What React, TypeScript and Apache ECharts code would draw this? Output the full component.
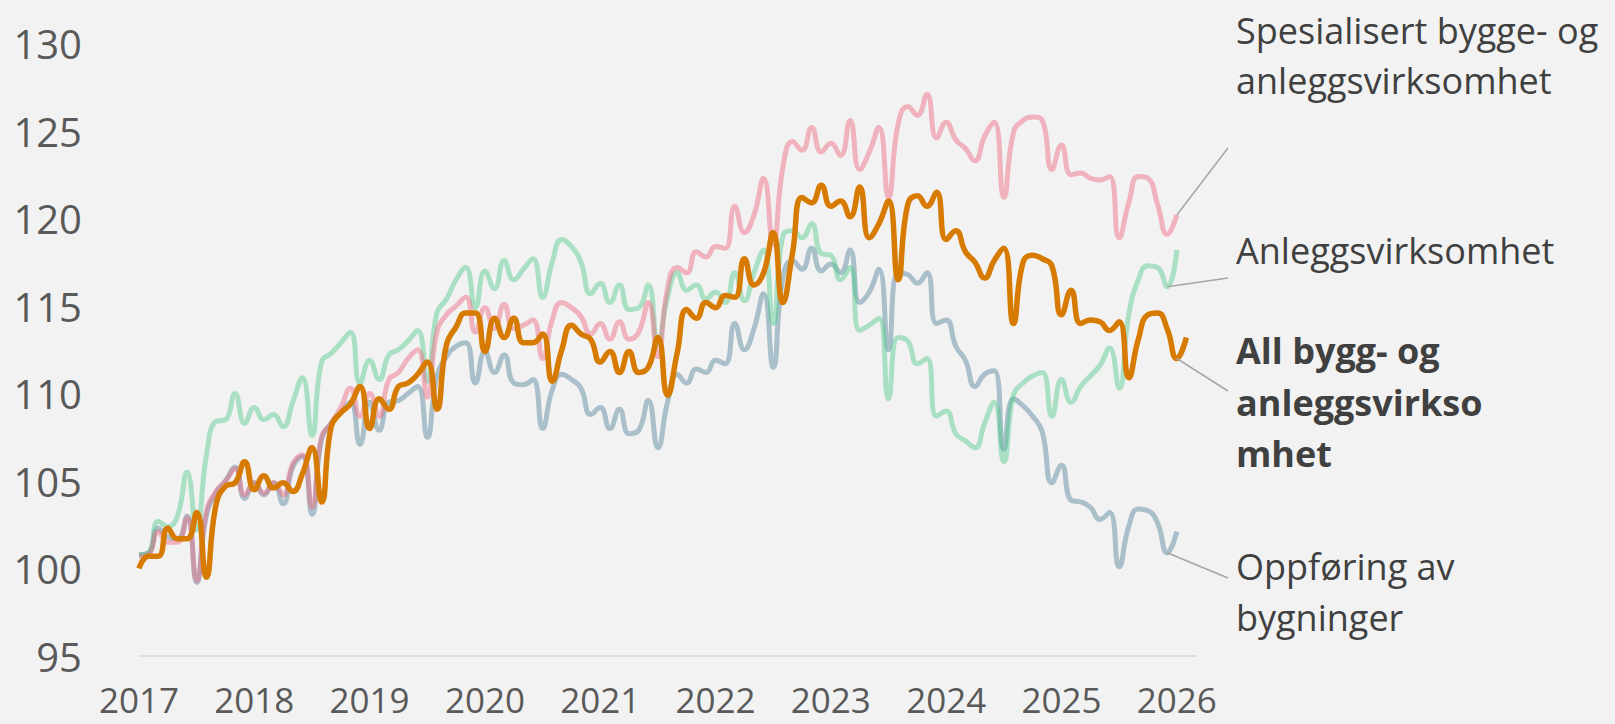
import React, { useEffect, useRef } from "react";
import * as echarts from "echarts";

// Monthly categories Jan 2017 – Mar 2026 (last one only extends the axis)
const months: string[] = [];
for (let y = 2017; y <= 2026; y++) {
  for (let m = 1; m <= 12; m++) {
    if (y === 2026 && m > 3) break;
    months.push(`${y}-${String(m).padStart(2, "0")}`);
  }
}

const seriesNames = [
  "Oppføring av bygninger",
  "Anleggsvirksomhet",
  "Spesialisert bygge- og anleggsvirksomhet",
  "All bygg- og anleggsvirksomhet",
];

const oppforing: number[] = [
  100.8, 100.9, 102.3, 101.8, 101.7, 103.0, 99.2, 103.0, 104.3, 105.0, 105.8, 104.0,
  104.9, 104.2, 104.9, 103.7, 105.8, 106.4, 103.1, 107.4, 108.3, 108.9, 109.5, 107.1,
  109.5, 107.9, 109.5, 109.6, 110.0, 110.4, 107.5, 111.0, 112.1, 112.7, 112.9, 110.6,
  112.4, 111.2, 112.2, 110.6, 110.5, 110.8, 108.0, 110.2, 111.1, 110.8, 110.3, 108.8,
  109.2, 108.0, 109.1, 107.7, 107.9, 109.6, 106.9, 109.5, 111.1, 110.6, 111.4, 111.2,
  111.9, 111.7, 114.0, 112.5, 113.7, 115.7, 111.5, 116.6, 117.6, 117.1, 118.3, 117.0,
  117.4, 116.9, 118.2, 115.2, 115.8, 117.1, 112.5, 116.9, 116.8, 116.3, 116.9, 114.0,
  114.2, 112.7, 111.9, 110.4, 111.1, 111.3, 106.8, 109.7, 109.3, 108.7, 107.8, 104.9,
  105.9, 103.9, 103.8, 103.5, 102.8, 103.2, 100.1, 102.4, 103.4, 103.3, 102.6, 100.9,
  102.1,
];

const anlegg: number[] = [
  100.8, 100.9, 102.7, 102.4, 103.0, 105.5, 102.2, 106.4, 108.4, 108.5, 110.0, 108.3,
  109.2, 108.5, 108.8, 108.1, 109.5, 110.9, 107.6, 111.8, 112.3, 112.9, 113.5, 110.6,
  111.9, 110.8, 112.2, 112.5, 113.0, 113.6, 110.7, 114.6, 115.4, 116.5, 117.2, 114.9,
  117.0, 116.0, 117.6, 116.5, 117.1, 117.7, 115.5, 117.5, 118.8, 118.4, 117.5, 115.7,
  116.3, 115.2, 116.2, 114.8, 114.9, 116.2, 112.8, 115.5, 116.9, 115.9, 116.2, 115.4,
  115.8, 115.2, 116.9, 115.3, 116.9, 118.2, 114.0, 119.0, 119.3, 118.9, 119.7, 118.0,
  117.9, 116.5, 117.2, 113.6, 113.9, 114.3, 109.7, 113.2, 113.0, 111.7, 112.0, 108.7,
  109.0, 107.7, 107.3, 106.9, 108.3, 109.5, 106.1, 109.9, 110.6, 111.0, 111.2, 108.7,
  110.8, 109.5, 110.4, 111.0, 111.6, 112.6, 110.3, 114.5, 116.5, 117.3, 117.2, 116.1,
  118.2,
];

const spesialisert: number[] = [
  100.7, 100.8, 102.1, 101.5, 101.5, 102.9, 99.3, 103.2, 104.4, 105.0, 105.7, 104.2,
  104.9, 104.3, 104.9, 104.2, 106.0, 106.5, 103.5, 107.5, 108.3, 109.2, 110.3, 108.7,
  110.0, 108.7, 110.8, 111.2, 112.0, 112.5, 109.8, 113.5, 114.5, 115.0, 115.5, 113.5,
  114.9, 113.7, 115.1, 113.7, 113.9, 114.2, 112.0, 114.2, 115.2, 114.9, 114.4, 113.4,
  114.0, 113.1, 114.1, 113.1, 113.5, 115.2, 112.1, 116.0, 117.2, 116.9, 118.1, 117.8,
  118.4, 118.3, 120.7, 119.2, 120.2, 122.3, 118.5, 122.9, 124.4, 123.9, 125.2, 123.8,
  124.3, 123.6, 125.6, 122.8, 123.8, 125.2, 121.2, 125.4, 126.4, 125.9, 127.1, 124.6,
  125.5, 124.5, 124.0, 123.3, 124.7, 125.5, 121.2, 124.9, 125.6, 125.8, 125.6, 122.8,
  124.2, 122.5, 122.6, 122.3, 122.2, 122.4, 118.9, 120.9, 122.4, 122.3, 120.8, 119.1,
  120.2,
];

const allBygg: number[] = [
  100.0, 100.7, 100.7, 102.3, 101.7, 101.7, 103.2, 99.5, 103.6, 104.7, 104.9, 106.1,
  104.5, 105.3, 104.6, 104.9, 104.4, 105.4, 106.9, 103.8, 108.1, 108.9, 109.4, 110.4,
  108.0, 109.7, 109.1, 110.4, 110.6, 111.1, 111.8, 109.1, 112.8, 113.8, 114.6, 114.6,
  112.4, 114.3, 113.2, 114.3, 112.9, 112.9, 113.4, 110.7, 112.5, 113.9, 113.4, 113.1,
  111.8, 112.4, 111.2, 112.4, 111.2, 111.5, 113.2, 109.9, 112.3, 114.8, 114.3, 115.2,
  114.9, 115.6, 115.5, 117.7, 116.2, 116.9, 119.2, 115.2, 118.0, 121.2, 120.9, 121.9,
  120.7, 121.0, 120.1, 121.8, 118.9, 119.7, 121.0, 116.5, 120.8, 121.3, 120.7, 121.5,
  118.8, 119.3, 118.1, 117.5, 116.6, 117.6, 118.3, 114.0, 117.5, 117.9, 117.7, 117.3,
  114.5, 115.9, 114.0, 114.2, 114.1, 113.6, 114.1, 110.9, 113.1, 114.5, 114.6, 113.7,
  112.0, 113.2,
];

const yTicks = { min: 95, max: 130, interval: 5 };

const colors = {
  oppforing: "#50819A",
  anlegg: "#50CA8C",
  spesialisert: "#EE667F",
  all: "#D77A00",
};

const FONT = "'Open Sans', 'Noto Sans', sans-serif";

export default function App() {
  const ref = useRef<HTMLDivElement>(null);

  useEffect(() => {
    document.body.style.margin = "0";
    document.body.style.background = "#F2F2F2";
    if (!ref.current) return;
    const chart = echarts.init(ref.current, undefined, { renderer: "svg" });

    const thin = (c: string) => ({ color: c, width: 5, opacity: 0.45 });

    chart.setOption({
      animation: false,
      backgroundColor: "#F2F2F2",
      grid: { left: 139, top: 43.5, width: 1057, bottom: 68, containLabel: false },
      xAxis: {
        type: "category",
        data: months,
        boundaryGap: false,
        axisLine: { show: true, lineStyle: { color: "#D9D9D9", width: 1.5 } },
        axisTick: { show: false },
        splitLine: { show: false },
        axisLabel: {
          interval: (idx: number) => idx % 12 === 0,
          formatter: (v: string) => v.slice(0, 4),
          color: "#595959",
          fontFamily: FONT,
          fontSize: 35,
          lineHeight: 36,
          margin: 25,
        },
      },
      yAxis: {
        type: "value",
        min: yTicks.min,
        max: yTicks.max,
        interval: yTicks.interval,
        axisLine: { show: false },
        axisTick: { show: false },
        splitLine: { show: false },
        axisLabel: {
          color: "#595959",
          fontFamily: FONT,
          fontSize: 40,
          margin: 57,
        },
      },
      series: [
        {
          name: seriesNames[0],
          type: "line",
          data: oppforing,
          smooth: 0.5,
          symbol: "none",
          lineStyle: thin(colors.oppforing),
        },
        {
          name: seriesNames[1],
          type: "line",
          data: anlegg,
          smooth: 0.5,
          symbol: "none",
          lineStyle: thin(colors.anlegg),
        },
        {
          name: seriesNames[2],
          type: "line",
          data: spesialisert,
          smooth: 0.5,
          symbol: "none",
          lineStyle: thin(colors.spesialisert),
        },
        {
          name: seriesNames[3],
          type: "line",
          data: allBygg,
          smooth: 0.5,
          symbol: "none",
          lineStyle: { color: colors.all, width: 5.5 },
        },
      ],
    });

    const px = (i: number, v: number) =>
      chart.convertToPixel({ gridIndex: 0 }, [i, v]) as number[];

    const pS = px(108, spesialisert[108]);
    const pA = px(107, anlegg[107]);
    const pB = px(108, allBygg[108]);
    const pO = px(107, oppforing[107]);

    const leader = (p: number[], ex: number, ey: number) => ({
      type: "line",
      shape: { x1: p[0], y1: p[1], x2: ex, y2: ey },
      style: { stroke: "#A6A6A6", lineWidth: 1.5 },
      z: 10,
    });
    const txt = (text: string, y: number, bold = false) => ({
      type: "text",
      x: 1236,
      y,
      style: {
        text,
        fill: "#404040",
        fontFamily: FONT,
        fontSize: 36,
        fontWeight: bold ? "bold" : "normal",
        align: "left",
        verticalAlign: "middle",
      },
      z: 10,
    });

    chart.setOption({
      graphic: [
        leader(pS, 1228, 148),
        leader(pA, 1228, 278),
        leader(pB, 1228, 391),
        leader(pO, 1228, 578),
        txt("Spesialisert bygge- og", 30),
        txt("anleggsvirksomhet", 80),
        txt("Anleggsvirksomhet", 250),
        txt("All bygg- og", 350, true),
        txt("anleggsvirkso", 402, true),
        txt("mhet", 453, true),
        txt("Oppføring av", 566),
        txt("bygninger", 617),
      ],
    });

    return () => chart.dispose();
  }, []);

  return (
    <div
      ref={ref}
      style={{ width: 1615, height: 724, background: "#F2F2F2" }}
    />
  );
}
